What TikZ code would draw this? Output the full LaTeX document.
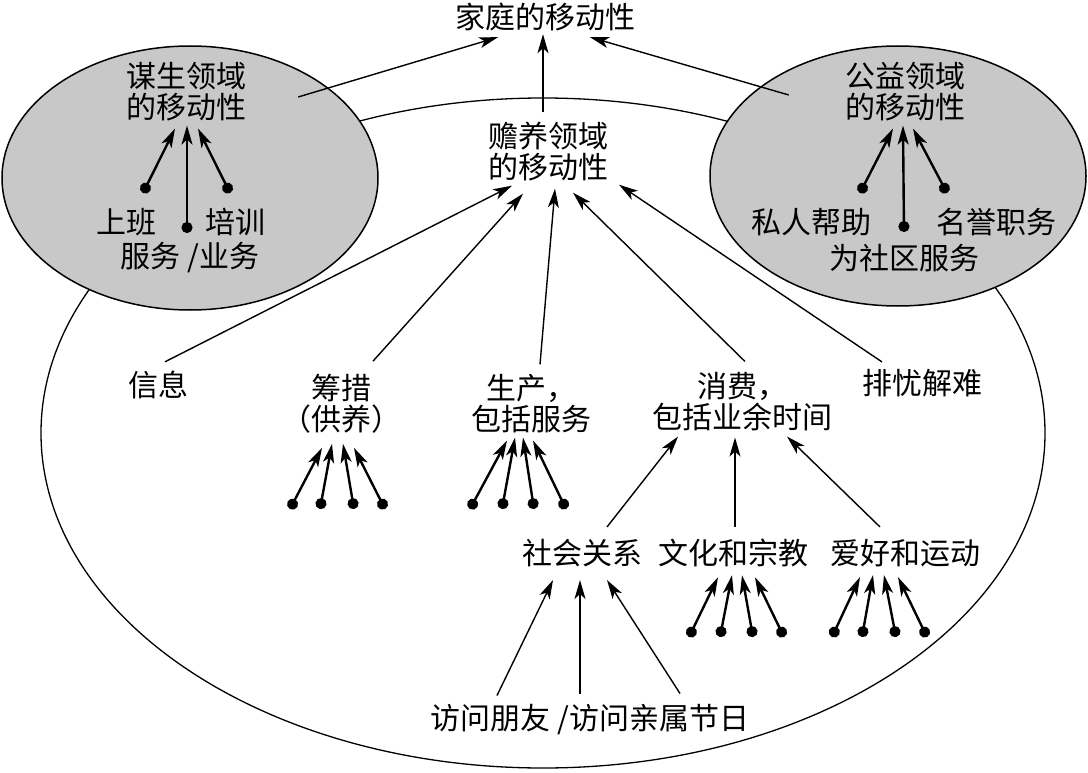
\documentclass[tikz,border=0pt]{standalone}
\usepackage{fontspec}
\setmainfont{Noto Sans CJK SC}
\usetikzlibrary{arrows.meta}
\usetikzlibrary{shapes.geometric}
\definecolor{zonegray}{RGB}{200,200,200}
\tikzset{>=Stealth}

\begin{document}
\begin{tikzpicture}[x=1pt,y=-1pt,
      txt/.style={align=center, inner sep=3pt, font=\fontsize{30}{31}\selectfont},
      zone/.style={draw, ellipse, line width=1.5pt, fill=zonegray, inner sep=0pt},
      thinarrow/.style={line width=1.4pt, -{Stealth[length=19pt,width=11pt,inset=5pt]}},
      fan/.style={line width=2.4pt, {Circle[length=11pt]}-{Stealth[length=19pt,width=11pt,inset=5pt]}}]
    \useasboundingbox (0,0) rectangle (1088,773);
    %% the three fields
    \node [draw, ellipse, line width=1.3pt, inner sep=0pt,
           minimum width=1004pt, minimum height=670pt] (careE) at (543,433) {};
    \node [zone, minimum width=376pt, minimum height=264pt] (earnE) at (190,178) {};
    \node [zone, minimum width=376pt, minimum height=260pt] (pubE) at (898,176) {};
    %% labels
    \node [txt] (family) at (545,17) {家庭的移动性};
    \node [txt] (earn) at (186,92) {谋生领域\\的移动性};
    \node [txt] (job) at (126,222) {上班};
    \node [txt] (train) at (235,222) {培训};
    \node [txt] (service) at (190,258) {服务 /业务};
    \node [txt] (pub) at (905,92) {公益领域\\的移动性};
    \node [txt] (help) at (811,222) {私人帮助};
    \node [txt] (honor) at (996,222) {名誉职务};
    \node [txt] (commu) at (904,258) {为社区服务};
    \node [txt] (care) at (548,152) {赡养领域\\的移动性};
    \node [txt] (info) at (158,385) {信息};
    \node [txt] (raise) at (341,404) {筹措\\（供养）};
    \node [txt] (prod) at (531,404) {生产，\\包括服务};
    \node [txt] (cons) at (742,402) {消费，\\包括业余时间};
    \node [txt] (relief) at (922,383) {排忧解难};
    \node [txt] (social) at (582,553) {社会关系};
    \node [txt] (culture) at (733,553) {文化和宗教};
    \node [txt] (hobby) at (905,553) {爱好和运动};
    \node [txt] (visit) at (590,720) {访问朋友 /访问亲属节日};
    %% up to the family
    \draw [thinarrow] ([xshift=49pt,yshift=-5pt]earn.east) -- ([xshift=-47pt,yshift=-3pt]family.south);
    \draw [thinarrow] ([xshift=-5pt,yshift=7pt]care.north) -- ([xshift=-2pt]family.south);
    \draw [thinarrow] ([xshift=-53pt,yshift=-3pt]pub.west) -- ([xshift=45pt,yshift=-3pt]family.south);
    %% earning and public fields
    \foreach \i/\px/\py/\tx/\ty in {1/143/193/-11/-4, 2/187/233/1/-1, 3/230/193/12/-4}
    {
      \coordinate (earn-d\i) at (\px,\py);
      \draw [fan] (earn-d\i) -- ([xshift=\tx pt,yshift=\ty pt]earn.south);
    }
    \foreach \i/\px/\py/\tx/\ty in {1/860/193/-12/-4, 2/904/232/-2/-1, 3/947/193/8/-4}
    {
      \coordinate (pub-d\i) at (\px,\py);
      \draw [fan] (pub-d\i) -- ([xshift=\tx pt,yshift=\ty pt]pub.south);
    }
    %% into the care field
    \draw [thinarrow] ([xshift=7pt,yshift=6pt]info.north) -- ([xshift=-36pt,yshift=-1pt]care.south);
    \draw [thinarrow] ([xshift=32pt,yshift=10pt]raise.north) -- ([xshift=-25pt,yshift=-9pt]care.south);
    \draw [thinarrow] ([xshift=9pt,yshift=7pt]prod.north) -- ([xshift=7pt,yshift=-4pt]care.south);
    \draw [thinarrow] ([xshift=3pt,yshift=8pt]cons.north) -- ([xshift=25pt,yshift=-8pt]care.south);
    \draw [thinarrow] ([xshift=-40pt,yshift=4pt]relief.north) -- ([xshift=71pt]care.south);
    %% into consumption
    \draw [thinarrow] ([xshift=25pt,yshift=9pt]social.north) -- ([xshift=-64pt,yshift=-2pt]cons.south);
    \draw [thinarrow] ([xshift=2pt,yshift=9pt]culture.north) -- ([xshift=-7pt,yshift=-3pt]cons.south);
    \draw [thinarrow] ([xshift=-25pt,yshift=9pt]hobby.north) -- ([xshift=45pt,yshift=-2pt]cons.south);
    %% into social relations
    \draw [thinarrow] ([xshift=-93pt,yshift=6pt]visit.north) -- ([xshift=-29pt,yshift=-10pt]social.south);
    \draw [thinarrow] ([xshift=-10pt,yshift=8pt]visit.north) -- ([xshift=-2pt,yshift=-10pt]social.south);
    \draw [thinarrow] ([xshift=90pt,yshift=8pt]visit.north) -- ([xshift=25pt,yshift=-10pt]social.south);
    %% unnamed fans
    \foreach \i/\px/\tx/\ty in {1/290/-19/-11, 2/320/-9/-7, 3/354/2/-7, 4/385/13/-11}
    {
      \coordinate (raise-d\i) at (\px,509);
      \draw [fan] (raise-d\i) -- ([xshift=\tx pt,yshift=\ty pt]raise.south);
    }
    \foreach \i/\px/\tx/\ty in {1/470/-24/-4, 2/502/-16/-1, 3/534/-8/-1, 4/566/2/-4}
    {
      \coordinate (prod-d\i) at (\px,509);
      \draw [fan] (prod-d\i) -- ([xshift=\tx pt,yshift=\ty pt]prod.south);
    }
    \foreach \i/\px/\tx/\ty in {1/689/-15/-7, 2/720/-1/-5, 3/753/9/-5, 4/784/22/-7}
    {
      \coordinate (culture-d\i) at (\px,637);
      \draw [fan] (culture-d\i) -- ([xshift=\tx pt,yshift=\ty pt]culture.south);
    }
    \foreach \i/\px/\tx/\ty in {1/832/-45/-7, 2/862/-32/-5, 3/896/-21/-5, 4/927/-7/-7}
    {
      \coordinate (hobby-d\i) at (\px,637);
      \draw [fan] (hobby-d\i) -- ([xshift=\tx pt,yshift=\ty pt]hobby.south);
    }
  \end{tikzpicture}
\end{document}
